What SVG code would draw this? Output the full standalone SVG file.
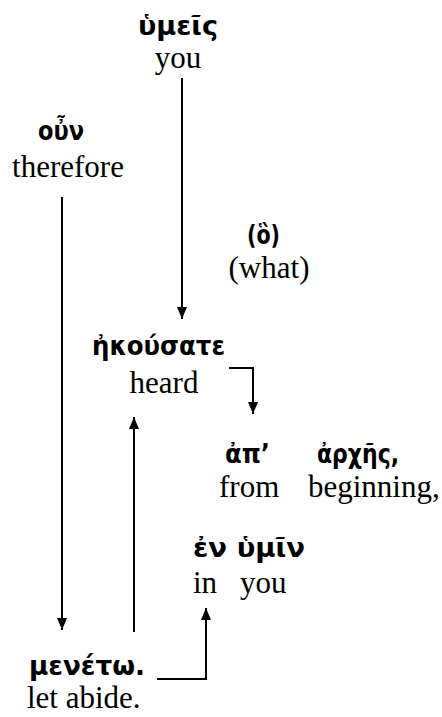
<svg xmlns="http://www.w3.org/2000/svg" width="442" height="717" viewBox="0 0 442 717">
<defs>
<style>
.gk{font-family:"DejaVu Sans","Noto Sans",sans-serif;font-weight:bold;font-size:26px;fill:#000}
.en{font-family:"Liberation Serif","Times New Roman",serif;font-size:31px;fill:#000}
.ln{stroke:#000;stroke-width:2;fill:none}
</style>
<marker id="ah" viewBox="0 0 12 10" refX="12" refY="5" markerWidth="12" markerHeight="10" markerUnits="userSpaceOnUse" orient="auto">
<path d="M0,0 L12,5 L0,10 z" fill="#000"/>
</marker>
</defs>
<rect width="442" height="717" fill="#fff"/>
<g id="connectors">
<line class="ln" x1="182" y1="78" x2="182" y2="319" marker-end="url(#ah)"/>
<line class="ln" x1="62" y1="197" x2="62" y2="630" marker-end="url(#ah)"/>
<line class="ln" x1="134" y1="632" x2="134" y2="417" marker-end="url(#ah)"/>
<polyline class="ln" points="229,368 253,368 253,414" marker-end="url(#ah)"/>
<polyline class="ln" points="157,679 206,679 206,608" marker-end="url(#ah)"/>
</g>
<g id="hymeis">
<text class="gk" x="138" y="35" textLength="80" lengthAdjust="spacingAndGlyphs">ὑμεῖς</text>
<text class="en" x="178" y="68" text-anchor="middle">you</text>
</g>
<g id="oun">
<text class="gk" x="38" y="140" textLength="46" lengthAdjust="spacingAndGlyphs">οὖν</text>
<text class="en" x="68" y="177" text-anchor="middle">therefore</text>
</g>
<g id="ho">
<text class="gk" x="247" y="244" textLength="33" lengthAdjust="spacingAndGlyphs">(ὃ)</text>
<text class="en" x="269" y="278" text-anchor="middle">(what)</text>
</g>
<g id="ekousate">
<text class="gk" x="92" y="355" textLength="133" lengthAdjust="spacingAndGlyphs">ἠκούσατε</text>
<text class="en" x="164" y="393" text-anchor="middle">heard</text>
</g>
<g id="ap-arches">
<text class="gk" x="225" y="463" textLength="45" lengthAdjust="spacingAndGlyphs">ἀπ’</text>
<text class="gk" x="317" y="463" textLength="82" lengthAdjust="spacingAndGlyphs">ἀρχῆς,</text>
<text class="en" x="219" y="497">from</text>
<text class="en" x="308" y="497">beginning,</text>
</g>
<g id="en-hymin">
<text class="gk" x="193" y="557" textLength="112" lengthAdjust="spacingAndGlyphs">ἐν ὑμῖν</text>
<text class="en" x="193" y="593">in</text>
<text class="en" x="240" y="593">you</text>
</g>
<g id="meneto">
<text class="gk" x="29" y="675" textLength="116" lengthAdjust="spacingAndGlyphs">μενέτω.</text>
<text class="en" x="27" y="708">let abide.</text>
</g>
</svg>
